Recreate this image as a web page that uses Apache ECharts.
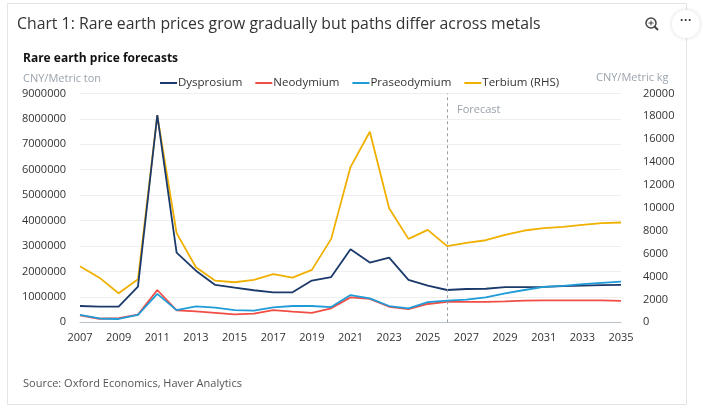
<!DOCTYPE html>
<html>
<head>
<meta charset="utf-8">
<script src="https://cdn.jsdelivr.net/npm/echarts@6/dist/echarts.min.js"></script>
<style>
html,body{margin:0;padding:0;background:#fff;}
#c{width:703px;height:408px;}
</style>
</head>
<body>
<div id="c"></div>
<script>
const years = ['2007','2008','2009','2010','2011','2012','2013','2014','2015','2016','2017','2018','2019','2020','2021','2022','2023','2024','2025','2026','2027','2028','2029','2030','2031','2032','2033','2034','2035'];
const dysprosium = [640000,620000,620000,1400000,8150000,2740000,2030000,1470000,1360000,1260000,1180000,1180000,1640000,1780000,2870000,2350000,2540000,1670000,1440000,1270000,1310000,1320000,1380000,1380000,1390000,1420000,1440000,1460000,1470000];
const neodymium = [270000,140000,160000,300000,1270000,470000,430000,370000,310000,340000,480000,420000,370000,550000,980000,920000,610000,520000,720000,800000,800000,800000,820000,850000,860000,860000,860000,860000,840000];
const praseodymium = [290000,150000,130000,290000,1120000,480000,630000,580000,480000,460000,590000,640000,640000,600000,1070000,940000,640000,550000,790000,850000,890000,980000,1140000,1270000,1390000,1430000,1500000,1550000,1600000];
const terbium = [4900,3900,2540,3760,18050,7790,4810,3640,3500,3700,4200,3900,4580,7290,13560,16650,9970,7290,8080,6660,6940,7170,7640,8020,8220,8340,8510,8660,8720];
const leftTicks = {min:0, max:9000000, interval:1000000};
const rightTicks = {min:0, max:20000, interval:2000};
const forecastStart = '2026';

const FONT = 'Open Sans';
const chart = echarts.init(document.getElementById('c'), null, {renderer:'canvas'});
const lbl = {color:'#333', fontSize:11, fontFamily:FONT, formatter:v => String(v)};
const mk = (name, data, color, yIdx, z) => ({
  name, type:'line', data, yAxisIndex:yIdx, symbol:'none', z,
  lineStyle:{color, width:1.8}, itemStyle:{color}
});
const s1 = mk('Dysprosium', dysprosium, '#1b3a6b', 0, 3);
s1.markLine = {
  silent:true, symbol:'none',
  lineStyle:{color:'#9aa0a8', type:[3,3], width:1},
  label:{show:false},
  data:[{xAxis:forecastStart}]
};
chart.setOption({
  animation:false,
  textStyle:{fontFamily:FONT},
  graphic:[
    {type:'rect', shape:{x:7.5,y:3.5,width:679,height:401}, style:{fill:'none', stroke:'#e4e4e4', lineWidth:1}, z:-1},
    {type:'text', left:17, top:16, style:{text:'Chart 1: Rare earth prices grow gradually but paths differ across metals', fontSize:15.8, fontFamily:FONT, fill:'#333'}},
    {type:'text', left:23, top:53, style:{text:'Rare earth price forecasts', fontSize:12, fontWeight:'bold', fontFamily:FONT, fill:'#111'}},
    {type:'text', left:23, top:73, style:{text:'CNY/Metric ton', fontSize:11, fontFamily:FONT, fill:'#9aa3ad'}},
    {type:'text', left:596, top:72, style:{text:'CNY/Metric kg', fontSize:11, fontFamily:FONT, fill:'#9aa3ad'}},
    {type:'text', left:457, top:104, style:{text:'Forecast', fontSize:11, fontFamily:FONT, fill:'#9aa3ad'}},
    {type:'text', left:23, top:378, style:{text:'Source: Oxford Economics, Haver Analytics', fontSize:11, fontFamily:FONT, fill:'#555'}},
    {type:'circle', shape:{cx:651,cy:23,r:5}, style:{fill:'none', stroke:'#444', lineWidth:1.5}},
    {type:'line', shape:{x1:654.5,y1:26.5,x2:658,y2:30}, style:{stroke:'#444', lineWidth:2}},
    {type:'line', shape:{x1:648.5,y1:23,x2:653.5,y2:23}, style:{stroke:'#444', lineWidth:1}},
    {type:'line', shape:{x1:651,y1:20.5,x2:651,y2:25.5}, style:{stroke:'#444', lineWidth:1}},
    {type:'circle', shape:{cx:686,cy:24,r:14}, style:{fill:'#fff', shadowBlur:4, shadowColor:'rgba(0,0,0,0.15)'}},
    {type:'text', x:686, y:21, style:{text:'···', fontSize:12, fontWeight:'bold', fill:'#333', align:'center', verticalAlign:'middle'}}
  ],
  legend:{
    top:72, left:155, itemWidth:17, itemHeight:2, itemGap:13,
    icon:'rect',
    textStyle:{color:'#333', fontSize:11.5, fontFamily:FONT, padding:[0,0,0,-4]},
    data:['Dysprosium','Neodymium','Praseodymium','Terbium (RHS)']
  },
  grid:{left:80, right:82, top:93.4, bottom:85.7, containLabel:false},
  xAxis:{
    type:'category', data:years, boundaryGap:false,
    axisLine:{lineStyle:{color:'#b8c0c8'}}, axisTick:{show:false},
    axisLabel:Object.assign({}, lbl, {interval:1, margin:10})
  },
  yAxis:[
    {type:'value', min:leftTicks.min, max:leftTicks.max, interval:leftTicks.interval,
     axisLabel:Object.assign({}, lbl, {margin:14}), splitLine:{lineStyle:{color:'#efefef'}},
     axisLine:{show:false}, axisTick:{show:false}},
    {type:'value', min:rightTicks.min, max:rightTicks.max, interval:rightTicks.interval, position:'right',
     axisLabel:Object.assign({}, lbl, {margin:22}), splitLine:{show:false},
     axisLine:{show:false}, axisTick:{show:false}}
  ],
  series:[
    mk('Terbium (RHS)', terbium, '#f0b000', 1, 2),
    s1,
    mk('Neodymium', neodymium, '#f04e45', 0, 4),
    mk('Praseodymium', praseodymium, '#1f9bd7', 0, 5)
  ]
});
</script>
</body>
</html>
